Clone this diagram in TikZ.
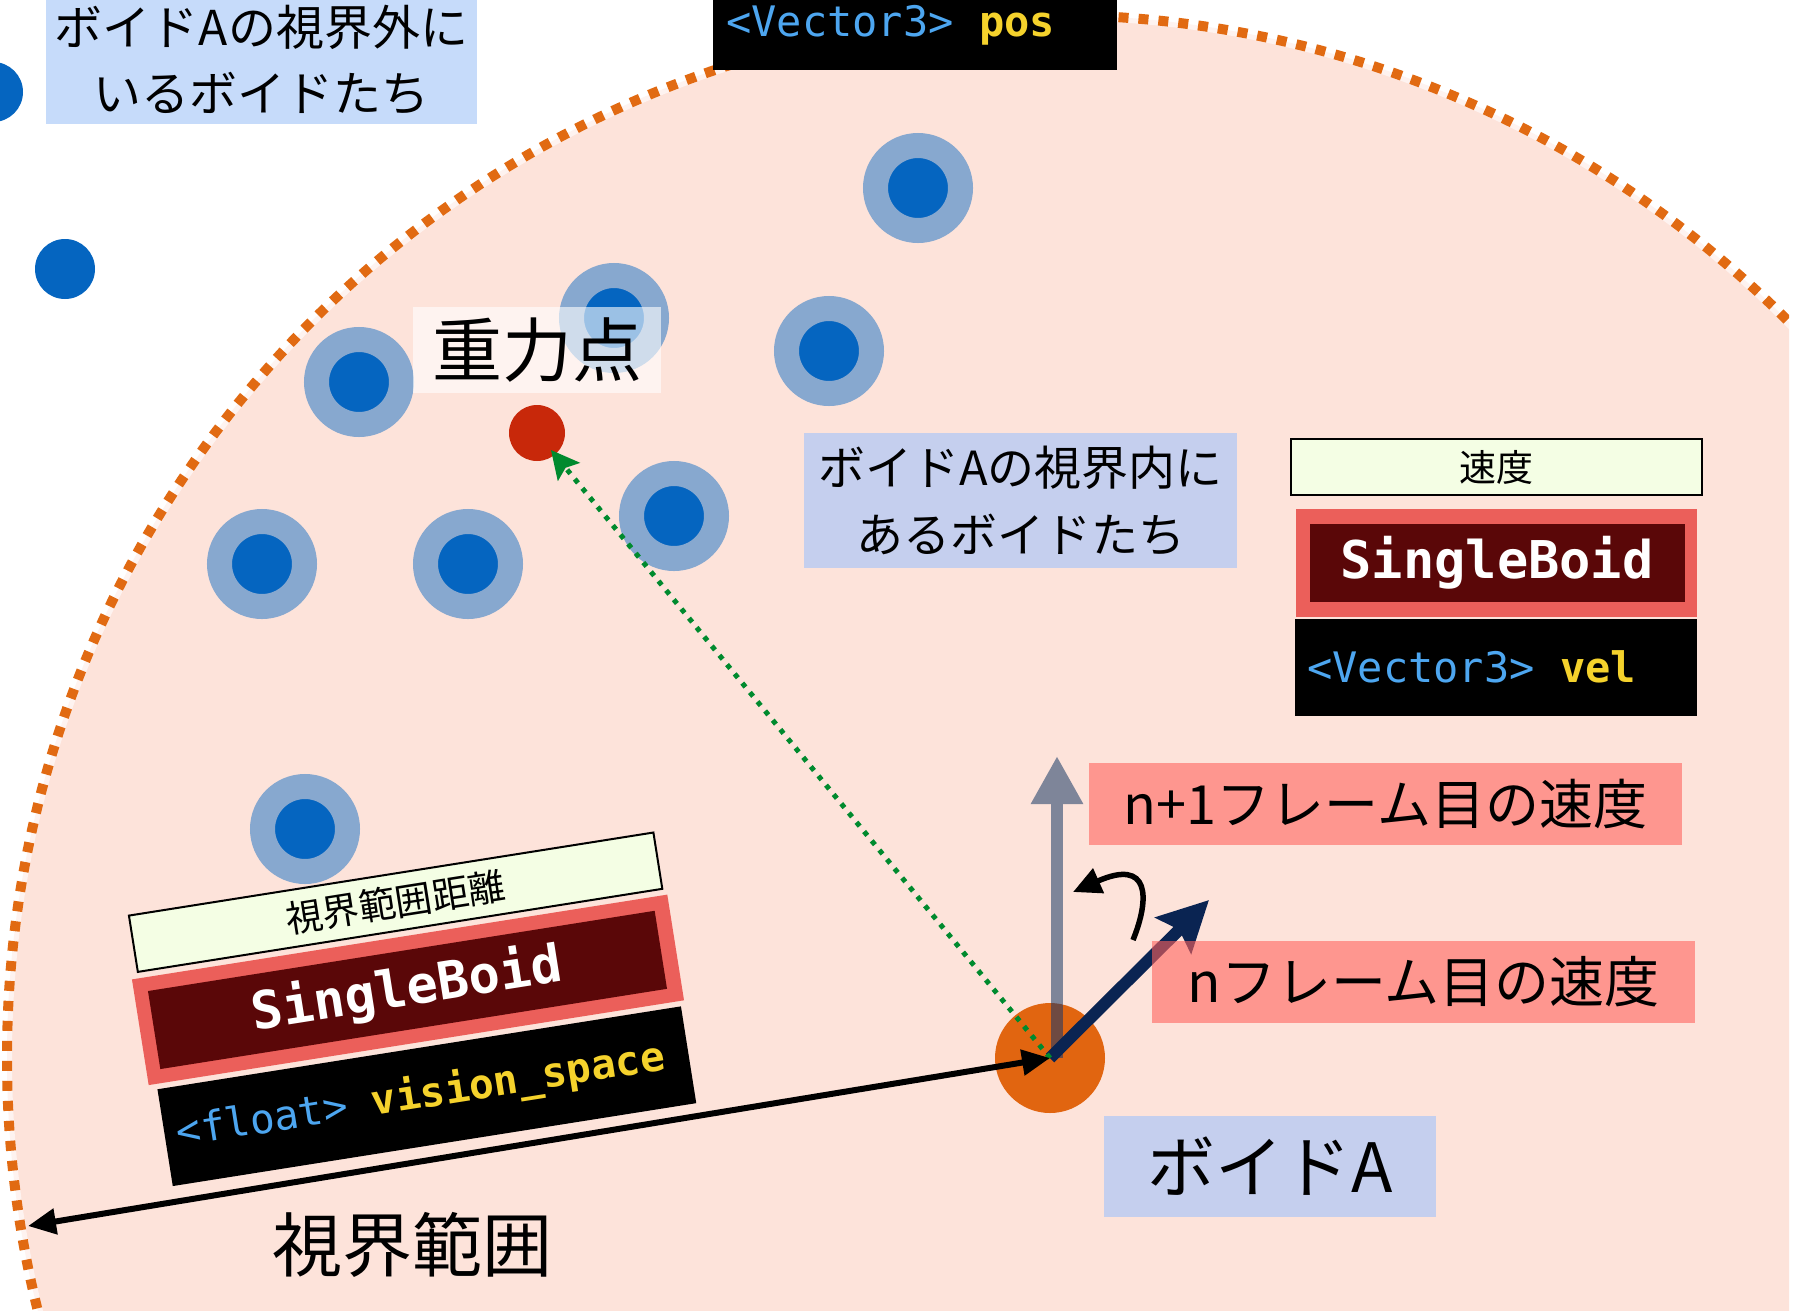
\documentclass[tikz,border=0pt]{standalone}
\usepackage{fontspec}
\newfontfamily\jp{Noto Sans CJK JP}
\newfontfamily\mono{DejaVu Sans Mono}
\usetikzlibrary{arrows.meta}
\definecolor{bgpink}{HTML}{FDE3DA}
\definecolor{dotorange}{HTML}{E16A12}
\definecolor{ringblue}{HTML}{87A8CF}
\definecolor{boidblue}{HTML}{0565C0}
\definecolor{gravred}{HTML}{C8280A}
\definecolor{arrowgreen}{HTML}{008A2E}
\definecolor{lavender}{HTML}{C5CFEE}
\definecolor{skyblue}{HTML}{C6DBFA}
\definecolor{salmon}{HTML}{FF635D}
\definecolor{navy}{HTML}{0A2452}
\definecolor{slategray}{HTML}{7E8599}
\definecolor{darkslate}{HTML}{6F4A42}
\definecolor{boidorange}{HTML}{E16510}
\definecolor{classred}{HTML}{EB5F5A}
\definecolor{maroon}{HTML}{5A0708}
\definecolor{codeblue}{HTML}{4DA6F0}
\definecolor{codeyellow}{HTML}{F5D22C}
\definecolor{paleyellow}{HTML}{F4FEE4}
\begin{document}
\begin{tikzpicture}[x=1pt,y=-1pt,
  inboid/.style={circle,fill=boidblue,draw=ringblue,line width=25pt,minimum size=85pt,inner sep=0pt,outer sep=0pt},
  outboid/.style={circle,fill=boidblue,minimum size=60pt,inner sep=0pt},
  labelbox/.style={inner sep=0pt,outer sep=0pt,align=center,font=\jp},
  salmonbox/.style={labelbox,fill=salmon,fill opacity=0.6,text opacity=1,minimum width=#1,minimum height=82pt},
  namebox/.style={fill=paleyellow,draw=black,line width=2pt,inner sep=0pt,font=\jp\fontsize{37}{44}\selectfont},
  codebox/.style={fill=black,inner sep=0pt,outer sep=0pt},
  codetext/.style={inner sep=0pt,anchor=base west,font=\mono\fontsize{42}{50}\selectfont},
  classtext/.style={inner sep=0pt,text=white,font=\mono\bfseries\fontsize{52}{60}\selectfont},
  grayvec/.style={line width=12pt,-{Triangle[length=48pt,width=49pt]}}
]
\useasboundingbox (0,0) rectangle (1797,1310);
\fill[white] (0,0) rectangle (1797,1310);
\begin{scope}
\clip (0,0) rectangle (1789,1310);
% vision range
\fill[bgpink] (1050,1058) circle[radius=1043pt];
\draw[white,opacity=0.6,line width=10pt] (1050,1058) circle[radius=1043pt];
\draw[dotorange,line width=10pt,dash pattern=on 10pt off 10pt] (1050,1058) circle[radius=1043pt];

% boids outside
\node[outboid] (o1) at (-7,92) {};
\node[outboid] (o2) at (65,269) {};

% boids inside
\node[inboid] (b1) at (918,188) {};
\node[inboid] (b2) at (614,318) {};
\node[inboid] (b3) at (359,382) {};
\node[inboid] (b4) at (829,351) {};
\node[inboid] (b5) at (674,516) {};
\node[inboid] (b6) at (262,564) {};
\node[inboid] (b7) at (468,564) {};
\node[inboid] (b8) at (305,829) {};

% labels
\node[labelbox,fill=skyblue,minimum width=431pt,minimum height=128pt,font=\jp\fontsize{48}{66}\selectfont] (outlabel) at (261.5,60) {ボイドAの視界外に\\いるボイドたち};
\node[labelbox,fill=lavender,minimum width=433pt,minimum height=135pt,font=\jp\fontsize{47}{67}\selectfont] (inlabel) at (1020.5,500.5) {ボイドAの視界内に\\あるボイドたち};
\node[labelbox,fill=white,fill opacity=0.6,text opacity=1,minimum width=248pt,minimum height=86pt,font=\jp\fontsize{70}{80}\selectfont] (gravlabel) at (537,350) {重力点};

% gravity point
\node[circle,fill=gravred,minimum size=56pt,inner sep=0pt,outer sep=-6pt] (grav) at (537,433) {};

% position box at top
\node[codebox,minimum width=404pt,minimum height=97pt] (posbox) at (915,21.5) {};
\node[codetext] (postext) at (726,36) {\color{codeblue}<Vector3> \color{codeyellow}\bfseries pos};

% velocity class box
\node[namebox,minimum width=411pt,minimum height=56pt] (velname) at (1496.5,467) {速度};
\node[fill=classred,inner sep=0pt,minimum width=401pt,minimum height=108pt] (velclass) at (1496.5,563) {};
\node[fill=maroon,inner sep=0pt,minimum width=375pt,minimum height=78pt] (velclassin) at (1497.5,563) {};
\node[classtext] (velclasstext) at (1497,563) {SingleBoid};
\node[codebox,minimum width=402pt,minimum height=97pt] (velbox) at (1496,667.5) {};
\node[codetext] (veltext) at (1307,682) {\color{codeblue}<Vector3> \color{codeyellow}\bfseries vel};

% vision space class box (rotated)
\begin{scope}[shift={(407,990)},rotate=9,transform shape]
\node[namebox,minimum width=531pt,minimum height=57pt] (visname) at (2.5,-88.5) {視界範囲距離};
\node[fill=classred,inner sep=0pt,minimum width=542pt,minimum height=107pt] (visclass) at (1,0) {};
\node[fill=maroon,inner sep=0pt,minimum width=513pt,minimum height=79pt] (visclassin) at (0.5,0) {};
\node[classtext] (visclasstext) at (0,0) {SingleBoid};
\node[codebox,minimum width=530pt,minimum height=98pt] (visbox) at (3,108) {};
\node[codetext,font=\mono\fontsize{41}{50}\selectfont] (vistext) at (-250,119) {\color{codeblue}<float> \color{codeyellow}\bfseries vision\_space};
\end{scope}

% boid A
\node[circle,fill=boidorange,minimum size=110pt,inner sep=0pt] (A) at (1050,1058) {};

\coordinate (v1tip) at (1057,756);
\coordinate (v0tip) at (1209,900);
\coordinate (rangeend) at (28,1226);
\coordinate (turnstart) at (1133,940);
\coordinate (turnend) at (1073,892);

% next-frame velocity (gray), darker where it lies over boid A
\draw[grayvec,draw=slategray,fill=slategray] (A.center -| v1tip) -- (v1tip);
\begin{scope}
\clip (A.center) circle[radius=55pt];
\draw[line width=12pt,darkslate] (A.center -| v1tip) -- (v1tip);
\end{scope}
% current velocity (navy)
\draw[line width=12pt,navy,-{Stealth[length=50pt,width=50pt,inset=8pt]}] (A.center) -- (v0tip);
% to gravity point
\draw[arrowgreen,line width=5pt,dash pattern=on 5pt off 7pt,-{Stealth[length=28pt,width=28pt,inset=5pt]}] (A.center) -- (grav);
% vision range
\draw[black,line width=6pt,{Triangle[length=28pt,width=25pt]}-{Triangle[length=28pt,width=25pt]}] (rangeend) -- (A.center);
% rotation
\draw[black,line width=5.5pt,-{Triangle[length=28pt,width=26pt]}] (turnstart) .. controls (1150,898) and (1150,858) .. (turnend);

% velocity labels
\node[salmonbox=593pt,font=\jp\fontsize{54}{60}\selectfont] (v1label) at (1385.5,804) {n+1フレーム目の速度};
\node[salmonbox=543pt,font=\jp\fontsize{55}{60}\selectfont] (v0label) at (1423.5,982) {nフレーム目の速度};
\node[labelbox,fill=lavender,minimum width=332pt,minimum height=101pt,font=\jp\fontsize{68}{70}\selectfont] (Alabel) at (1270,1166.5) {ボイドA};
\node[labelbox,font=\jp\fontsize{70}{80}\selectfont] (rangelabel) at (412.5,1245) {視界範囲};
\end{scope}
\end{tikzpicture}
\end{document}
